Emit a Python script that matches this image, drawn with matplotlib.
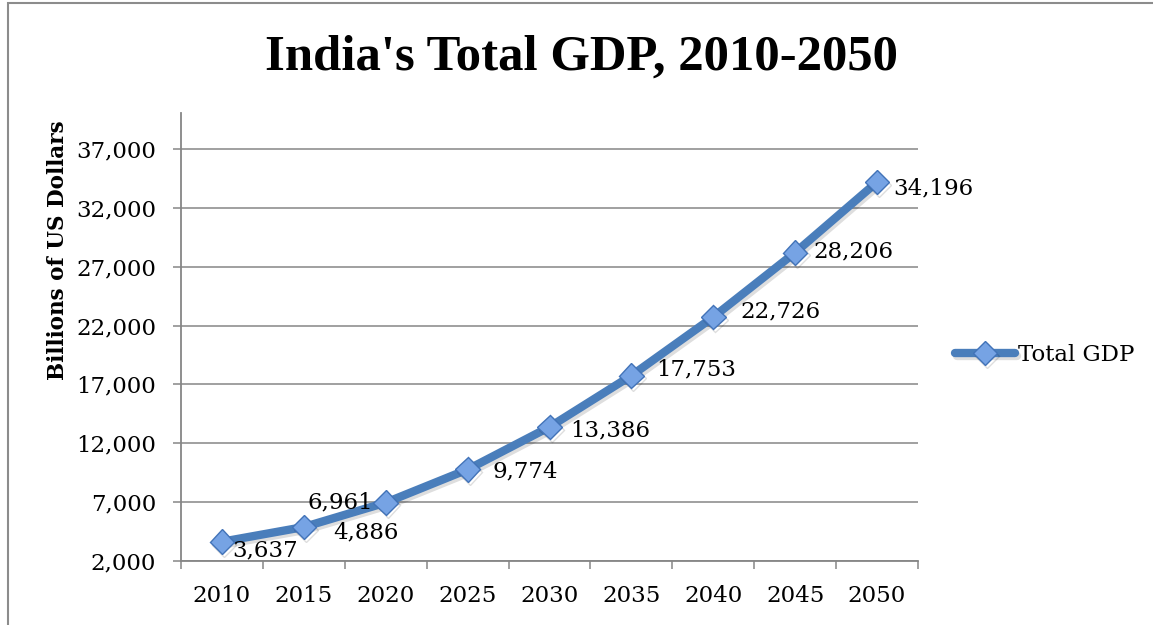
import numpy as np
import matplotlib
matplotlib.use('Agg')
import matplotlib.pyplot as plt
import matplotlib.patheffects as pe
from matplotlib.patches import Rectangle

years = ['2010', '2015', '2020', '2025', '2030', '2035', '2040', '2045', '2050']
gdp = [3637, 4886, 6961, 9774, 13386, 17753, 22726, 28206, 34196]
# where each value label sits relative to its point, in pixels (dx to left edge, dy up)
label_offsets = [(10, -9), (29, -5), (-78, 0), (25, -2), (21, -3),
                 (25, 6), (27, 6), (18, 1), (16, -6)]
yticks = [2000, 7000, 12000, 17000, 22000, 27000, 32000, 37000]

plt.rcParams['font.family'] = 'DejaVu Serif'
line_color = '#4a7ebb'
grid_color = '#868686'

fig = plt.figure(figsize=(11.53, 6.25), dpi=100)
ax = fig.add_axes([181/1153, 64/625, (918-181)/1153, (561-113)/625])

# outer chart frame
fig.patches.append(Rectangle((8/1153, -0.1), 1.2, 1.1 - 3/625,
                             transform=fig.transFigure, fill=False,
                             edgecolor='#8c8c8c', linewidth=1.5))

x = np.arange(len(years))
shadow = [pe.SimpleLineShadow(offset=(1.5, -2), shadow_color='black', alpha=0.13), pe.Normal()]
ax.plot(x, gdp, color=line_color, linewidth=6, solid_capstyle='round',
        marker='D', markersize=12.5, markerfacecolor='#76a3e4',
        markeredgecolor='#4273b8', markeredgewidth=1.0, label='Total GDP', zorder=3,
        path_effects=shadow)

for xi, v, (dx, dy) in zip(x, gdp, label_offsets):
    ax.annotate(f'{v:,}', (xi, v), xytext=(dx, dy), textcoords='offset pixels',
                ha='left', va='center', fontsize=16.5, color='black', zorder=4)

ax.set_xlim(-0.5, len(years) - 0.5)
ax.set_ylim(2000, 40060)
ax.set_yticks(yticks)
ax.set_yticklabels([f'{t:,}' for t in yticks])
ax.yaxis.grid(True, color=grid_color, linewidth=1.1)
ax.set_axisbelow(True)

ax.set_xticks(np.arange(-0.5, len(years)), labels=[''] * (len(years) + 1))
ax.set_xticks(x, labels=years, minor=True)
ax.tick_params(axis='x', which='major', length=6, width=1.1, color=grid_color, direction='out')
ax.tick_params(axis='x', which='minor', length=0, pad=17, labelsize=16.5)
ax.tick_params(axis='y', length=6, width=1.1, color=grid_color, pad=12, labelsize=16.5)

for side in ['top', 'right']:
    ax.spines[side].set_visible(False)
for side in ['left', 'bottom']:
    ax.spines[side].set_color(grid_color)
    ax.spines[side].set_linewidth(1.3)

fig.text(0.504, 0.907, "India's Total GDP, 2010-2050", ha='center', va='center',
         fontsize=36.5, fontweight='bold', family='Liberation Serif')
fig.text(0.050, 0.600, 'Billions of US Dollars', ha='center', va='center',
         rotation=90, fontsize=15.5, fontweight='bold')

fig.legend(loc='center left', bbox_to_anchor=(955/1153, 0.432), frameon=False,
           borderpad=0, borderaxespad=0, handlelength=2.6, handletextpad=0.15,
           fontsize=16.5)

fig.savefig('out.png', dpi=100)
